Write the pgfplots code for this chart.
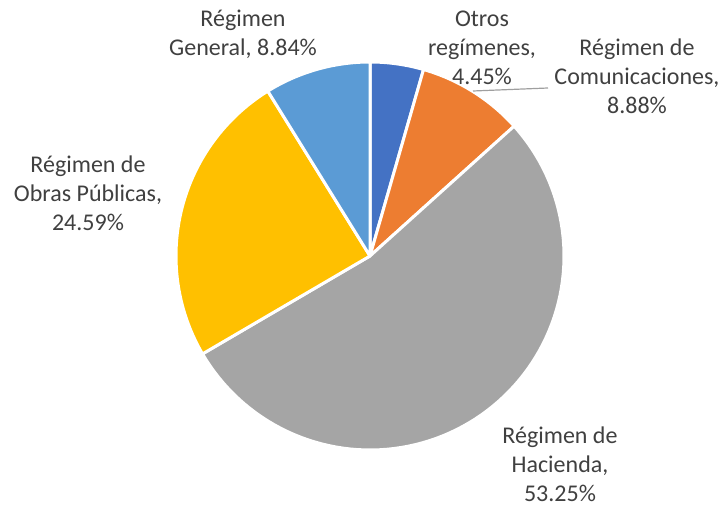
\documentclass[border=0pt]{standalone}
\usepackage{fontspec}
\setmainfont{Carlito}
\usepackage{pgfplots}
\pgfplotsset{compat=1.18}
\definecolor{cOtros}{HTML}{4472C4}
\definecolor{cCom}{HTML}{ED7D31}
\definecolor{cHac}{HTML}{A5A5A5}
\definecolor{cObr}{HTML}{FFC000}
\definecolor{cGen}{HTML}{5B9BD5}
\definecolor{txt}{HTML}{404040}
\begin{document}
\begin{tikzpicture}
% shares (percent)
\def\vOtros{4.45}
\def\vCom{8.88}
\def\vHac{53.25}
\def\vObr{24.59}
\def\vGen{8.84}
\pgfmathsetmacro\aA{90}
\pgfmathsetmacro\aB{\aA-3.6*\vOtros}
\pgfmathsetmacro\aC{\aB-3.6*\vCom}
\pgfmathsetmacro\aD{\aC-3.6*\vHac}
\pgfmathsetmacro\aE{\aD-3.6*\vObr}
\pgfmathsetmacro\aF{\aE-3.6*\vGen}
\def\cx{370}\def\cy{251}\def\rr{194}
\begin{axis}[width=725bp,height=507bp,scale only axis,hide axis,
  xmin=0,xmax=725,ymin=0,ymax=507,clip=false]
\path (axis cs:0,0) rectangle (axis cs:725,507);
\pgfplotsset{slice/.style={draw=white,line width=3pt,line join=round,samples=90,variable=\t}}
\addplot[slice,fill=cOtros,domain=\aB:\aA] ({\cx+\rr*cos(\t)},{\cy+\rr*sin(\t)}) -- (axis cs:\cx,\cy) -- cycle;
\addplot[slice,fill=cCom,domain=\aC:\aB] ({\cx+\rr*cos(\t)},{\cy+\rr*sin(\t)}) -- (axis cs:\cx,\cy) -- cycle;
\addplot[slice,fill=cHac,domain=\aD:\aC] ({\cx+\rr*cos(\t)},{\cy+\rr*sin(\t)}) -- (axis cs:\cx,\cy) -- cycle;
\addplot[slice,fill=cObr,domain=\aE:\aD] ({\cx+\rr*cos(\t)},{\cy+\rr*sin(\t)}) -- (axis cs:\cx,\cy) -- cycle;
\addplot[slice,fill=cGen,domain=\aF:\aE] ({\cx+\rr*cos(\t)},{\cy+\rr*sin(\t)}) -- (axis cs:\cx,\cy) -- cycle;
\draw[gray!75,line width=1.2pt] (axis cs:473,416) -- (axis cs:548,419);
\tikzset{lbl/.style={text=txt,align=center,font=\fontsize{24bp}{29bp}\selectfont,inner sep=0pt}}
\node[lbl] at (axis cs:243,473) {Régimen\\General, 8.84\%};
\node[lbl] at (axis cs:482,459) {Otros\\regímenes,\\4.45\%};
\node[lbl] at (axis cs:637,431) {Régimen de\\Comunicaciones,\\8.88\%};
\node[lbl] at (axis cs:88,314) {Régimen de\\Obras Públicas,\\24.59\%};
\node[lbl] at (axis cs:560,43) {Régimen de\\Hacienda,\\53.25\%};
\end{axis}
\end{tikzpicture}
\end{document}
